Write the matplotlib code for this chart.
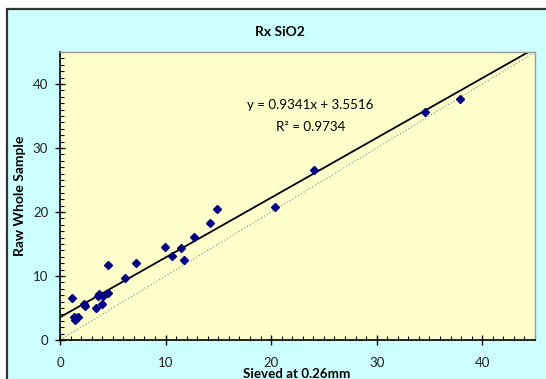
import numpy as np
import matplotlib
matplotlib.use('Agg')
import matplotlib.pyplot as plt
from matplotlib.patches import Rectangle
from matplotlib.ticker import MultipleLocator

plt.rcParams['font.family'] = ['Lato', 'DejaVu Sans']

# readings
sieved = [1.12, 1.30, 1.45, 1.55, 1.68, 2.28, 2.38, 3.37, 3.60, 3.72, 3.97, 4.03,
          4.50, 4.56, 6.15, 7.17, 9.95, 10.61, 11.47, 11.70, 12.69, 14.25, 14.91,
          20.40, 24.07, 34.58, 37.88]
raw_whole = [6.53, 3.60, 3.20, 3.40, 3.60, 5.60, 5.27, 5.07, 6.90, 7.15, 5.59, 6.84,
             7.36, 11.70, 9.66, 11.96, 14.46, 13.10, 14.30, 12.53, 16.03, 18.33, 20.47,
             20.84, 26.63, 35.56, 37.60]
slope = 0.9341
intercept = 3.5516
r_squared = 0.9734
axis_max = 45

W, H = 546, 379
fig = plt.figure(figsize=(W / 100, H / 100), dpi=100)
fig.patch.set_facecolor('white')

# chart area: cyan with a border on top and left (rest runs off the image)
bg = Rectangle((7 / W, -0.1), 1.2, 1 - 9 / H + 0.1, transform=fig.transFigure,
               facecolor='#CCFFFF', edgecolor='#333333', linewidth=1.6, zorder=-10)
fig.patches.append(bg)

ax = fig.add_axes([60 / W, (H - 340) / H, 475 / W, 288 / H])
ax.set_facecolor('#FFFFCC')

line_x = np.array([0, axis_max])
ax.plot(line_x, line_x, linestyle=':', color='#999999', linewidth=0.9)
ax.plot(line_x, slope * line_x + intercept, color='black', linewidth=1.3)
ax.plot(sieved, raw_whole, linestyle='none', marker='D', markersize=4,
        color='#000080', zorder=5)

ax.set_xlim(0, axis_max)
ax.set_ylim(0, axis_max)
ax.xaxis.set_major_locator(MultipleLocator(10))
ax.yaxis.set_major_locator(MultipleLocator(10))
ax.xaxis.set_minor_locator(MultipleLocator(1))
ax.yaxis.set_minor_locator(MultipleLocator(1))
ax.tick_params(which='major', direction='inout', length=7, width=1, labelsize=9.5,
               colors='black', labelcolor='#222222')
ax.tick_params(axis='x', which='major', pad=9)
ax.tick_params(axis='y', which='major', pad=5)
ax.tick_params(which='minor', direction='in', length=3, width=0.8)

for side in ['left', 'bottom']:
    ax.spines[side].set_color('black')
    ax.spines[side].set_linewidth(1.2)
for side in ['top', 'right']:
    ax.spines[side].set_color('#999999')
    ax.spines[side].set_linewidth(1.0)

fig.text(280 / W, 1 - 32 / H, 'Rx SiO2', ha='center', va='center',
         fontsize=10, fontweight='bold')
fig.text(297 / W, 1 - 374 / H, 'Sieved at 0.26mm', ha='center', va='center',
         fontsize=9.6, fontweight='bold')
fig.text(20.5 / W, 1 - 196 / H, 'Raw Whole Sample', ha='center', va='center',
         rotation=90, fontsize=10, fontweight='bold')

fig.text(310 / W, 1 - 105 / H, 'y = {:.4f}x + {:.4f}'.format(slope, intercept),
         ha='center', va='center', fontsize=9.6)
fig.text(311 / W, 1 - 127 / H, 'R\u00b2 = {:.4f}'.format(r_squared),
         ha='center', va='center', fontsize=9.6)

fig.savefig('out.png', dpi=100, facecolor=fig.get_facecolor())
